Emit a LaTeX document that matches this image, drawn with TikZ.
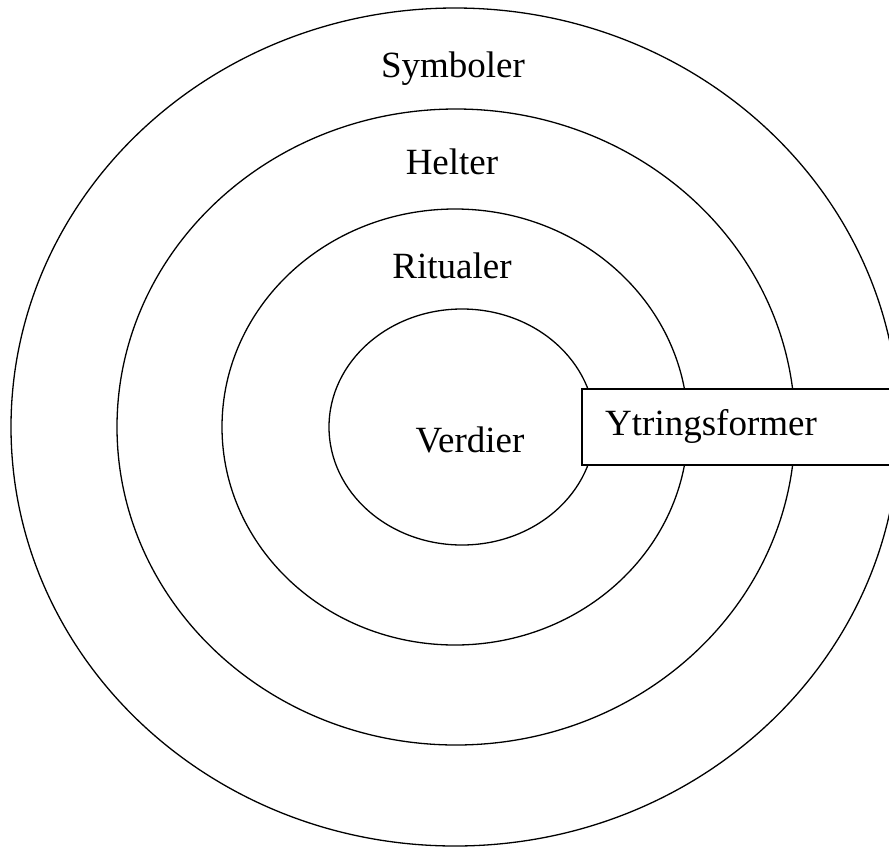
\documentclass[tikz,border=0pt]{standalone}
\usepackage{fontspec}
\setmainfont{Liberation Serif}
\begin{document}
\begin{tikzpicture}[x=1pt,y=-1pt,
  ring/.style={draw=black,line width=1.3pt},
  lbl/.style={font=\fontsize{37}{40}\selectfont,inner sep=0pt,anchor=base},
  boxst/.style={draw=black,line width=1.3pt,fill=white}]
\useasboundingbox (0,0) rectangle (889,847);
\draw[ring] (455,427) ellipse [x radius=444, y radius=419];
\draw[ring] (456,427) ellipse [x radius=339, y radius=318];
\draw[ring] (455,427) ellipse [x radius=233, y radius=218];
\draw[ring] (462,427) ellipse [x radius=133, y radius=118];
\node[lbl] (sym) at (453,77) {Symboler};
\node[lbl] (hel) at (452,174) {Helter};
\node[lbl] (rit) at (452,278) {Ritualer};
\node[lbl] (ver) at (470,452) {Verdier};
\path[boxst] (582,389) rectangle (900,465);
\node[lbl,anchor=base west] (ytr) at (605,435) {Ytringsformer};
\end{tikzpicture}
\end{document}
